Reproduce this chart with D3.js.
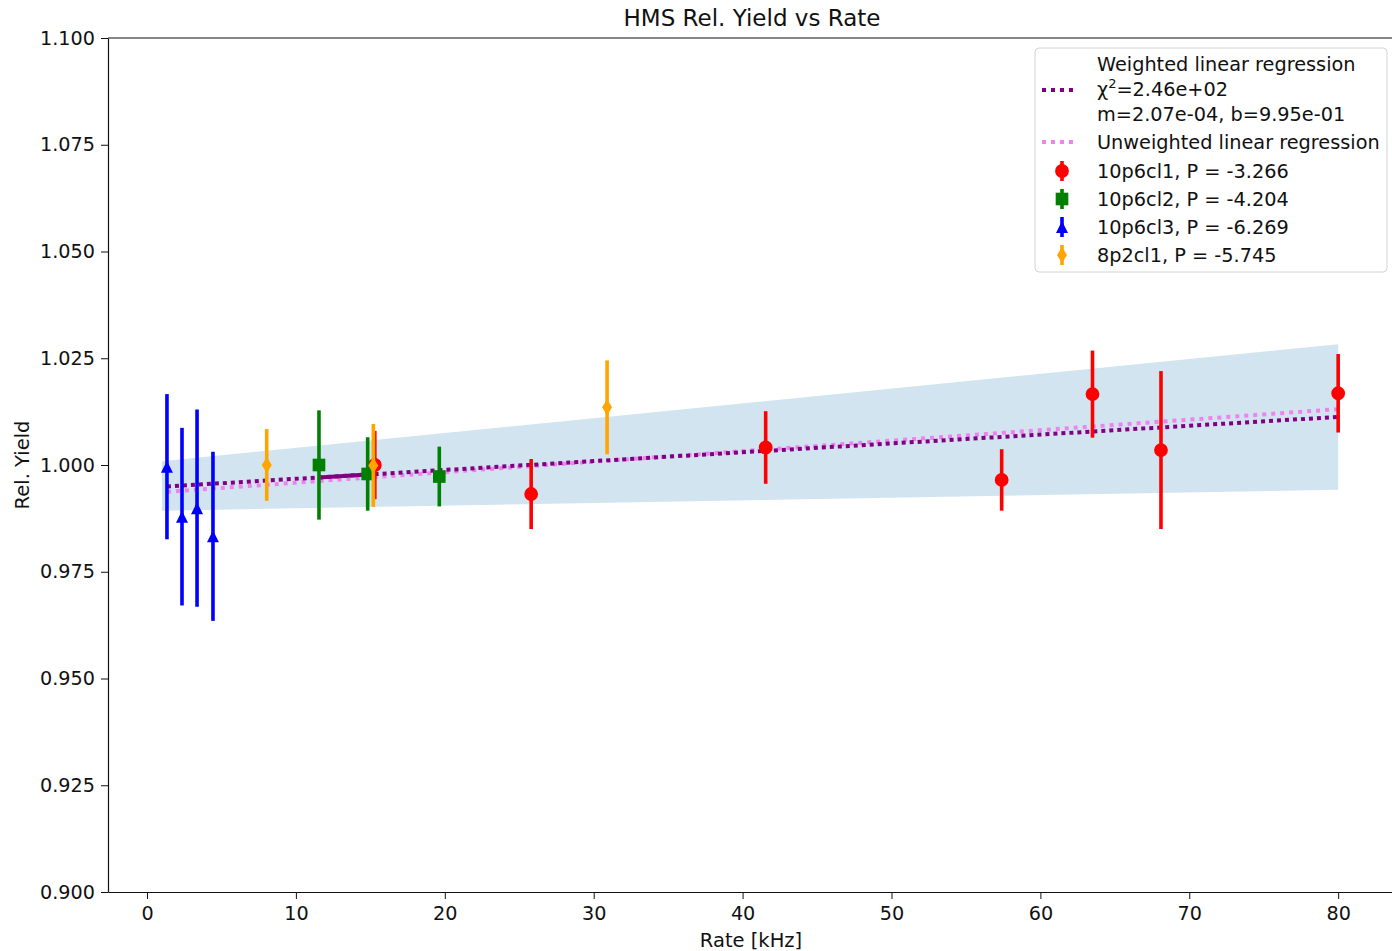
<!DOCTYPE html>
<html>
<head>
<meta charset="utf-8">
<script src="https://cdnjs.cloudflare.com/ajax/libs/d3/7.9.0/d3.min.js"></script>
<style>
  body { margin: 0; background: #fff; }
  svg { display: block; font-family: 'DejaVu Sans', sans-serif; }
</style>
</head>
<body>
<svg id="chart" width="1392" height="951"></svg>
<script>
const TITLE = 'HMS Rel. Yield vs Rate';
const X_TICKS = [0, 10, 20, 30, 40, 50, 60, 70, 80];
const Y_TICKS = [0.900, 0.925, 0.950, 0.975, 1.000, 1.025, 1.050, 1.075, 1.100];

// series
const redX = [15.3, 25.8, 41.55, 57.4, 63.5, 68.1, 80.0];
const redY = [1.000, 0.9932, 1.0041, 0.9965, 1.0166, 1.0035, 1.0168];
const redErr = [0.008, 0.0082, 0.0085, 0.0072, 0.0102, 0.0185, 0.0092];

const greenX = [11.55, 14.82, 19.63];
const greenY = [1.000, 0.9979, 0.9973];
const greenErr = [0.0128, 0.0086, 0.007];

const blueX = [1.34, 2.35, 3.36, 4.43];
const blueY = [0.9996, 0.9879, 0.9899, 0.9833];
const blueErr = [0.017, 0.0208, 0.0231, 0.0198];

const orangeX = [8.04, 15.2, 30.9];
const orangeY = [1.000, 0.9999, 1.0135];
const orangeErr = [0.0084, 0.0097, 0.011];

// fits + confidence band
const weightedFit = [2.07e-4, 0.9947];   // m, b
const unweightedFit = [2.46e-4, 0.9934];
const bandX = [1.0, 80.0];
const bandLow = [0.9893, 0.9942];
const bandHigh = [1.0009, 1.0283];

const SERIES = [
  { name: '10p6cl1, P = -3.266', color: 'red', shape: 'circle', x: redX, y: redY, e: redErr },
  { name: '10p6cl2, P = -4.204', color: 'green', shape: 'square', x: greenX, y: greenY, e: greenErr },
  { name: '10p6cl3, P = -6.269', color: 'blue', shape: 'triangle', x: blueX, y: blueY, e: blueErr },
  { name: '8p2cl1, P = -5.745', color: 'orange', shape: 'diamond', x: orangeX, y: orangeY, e: orangeErr },
];

const L = 108, T = 38, R = 1394, B = 892;
const INK = '#111';
const x = d3.scaleLinear().domain([-2.62, 83.75]).range([L, R]);
const y = d3.scaleLinear().domain([0.9, 1.1]).range([B, T]);

const svg = d3.select('#chart');

function markerPath(shape) {
  if (shape === 'circle') return d3.symbol(d3.symbolCircle, 150)();
  if (shape === 'square') return d3.symbol(d3.symbolSquare, 160)();
  if (shape === 'triangle') return 'M0,-6L6,6L-6,6Z';
  return 'M0,-8L5,0L0,8L-5,0Z';
}

// band
const band = bandX.map((v, i) => ({ x: v, lo: bandLow[i], hi: bandHigh[i] }));
svg.append('path').datum(band)
  .attr('d', d3.area().x(d => x(d.x)).y0(d => y(d.lo)).y1(d => y(d.hi)))
  .attr('fill', '#1f77b4').attr('opacity', 0.2);

// fit lines
const allX = SERIES.flatMap(s => s.x);
const fitRange = d3.extent(allX);
function fitLine(fit, color, dash) {
  svg.append('path').datum(fitRange)
    .attr('d', d3.line().x(d => x(d)).y(d => y(fit[0] * d + fit[1])))
    .attr('stroke', color).attr('stroke-width', 4).attr('fill', 'none')
    .attr('stroke-dasharray', dash);
}
fitLine(unweightedFit, 'violet', '4 5');
fitLine(weightedFit, 'purple', '4 4');
// overlapping dashes look solid here in the original
svg.append('path').datum([greenX[0], greenX[1]])
  .attr('d', d3.line().x(d => x(d)).y(d => y(weightedFit[0] * d + weightedFit[1])))
  .attr('stroke', 'purple').attr('stroke-width', 4).attr('fill', 'none');

// error bars + markers
SERIES.forEach(s => {
  const g = svg.append('g');
  const pts = s.x.map((v, i) => ({ x: v, y: s.y[i], e: s.e[i] }));
  g.selectAll('line').data(pts).join('line')
    .attr('x1', d => x(d.x)).attr('x2', d => x(d.x))
    .attr('y1', d => y(d.y - d.e)).attr('y2', d => y(d.y + d.e))
    .attr('stroke', s.color).attr('stroke-width', 3.6);
  g.selectAll('path').data(pts).join('path')
    .attr('d', markerPath(s.shape))
    .attr('transform', d => `translate(${x(d.x)},${y(d.y)})`)
    .attr('fill', s.color);
});

// axes
const xAxis = svg.append('g').attr('transform', `translate(0,${B})`)
  .call(d3.axisBottom(x).tickValues(X_TICKS).tickSize(7).tickPadding(7).tickSizeOuter(0));
const yAxis = svg.append('g').attr('transform', `translate(${L},0)`)
  .call(d3.axisLeft(y).tickValues(Y_TICKS).tickFormat(d3.format('.3f')).tickSize(7).tickPadding(6).tickSizeOuter(0));
[xAxis, yAxis].forEach(a => {
  a.selectAll('text').attr('font-size', 19.2).attr('fill', INK).style('font-family', 'DejaVu Sans');
  a.selectAll('line').attr('stroke', INK);
  a.select('.domain').attr('stroke', INK).attr('stroke-width', 1.2);
});
svg.append('line').attr('x1', L).attr('x2', R).attr('y1', T).attr('y2', T)
  .attr('stroke', INK).attr('stroke-width', 1.2);

svg.append('text').text(TITLE).attr('x', 752).attr('y', 26)
  .attr('text-anchor', 'middle').attr('font-size', 23).attr('fill', INK);
svg.append('text').text('Rate [kHz]').attr('x', 751).attr('y', 947)
  .attr('text-anchor', 'middle').attr('font-size', 19.5).attr('fill', INK);
svg.append('text').text('Rel. Yield')
  .attr('transform', `translate(29,${(T + B) / 2}) rotate(-90)`)
  .attr('text-anchor', 'middle').attr('font-size', 19.5).attr('fill', INK);

// legend
const lg = svg.append('g');
lg.append('rect').attr('x', 1035).attr('y', 48).attr('width', 352).attr('height', 224).attr('rx', 4)
  .attr('fill', '#fff').attr('fill-opacity', 0.8).attr('stroke', '#d4d4d4');
const tx = 1097, fs = 19.3;
lg.append('line').attr('x1', 1042).attr('x2', 1078).attr('y1', 90).attr('y2', 90)
  .attr('stroke', 'purple').attr('stroke-width', 4).attr('stroke-dasharray', '4 5');
lg.append('text').text('Weighted linear regression').attr('x', tx).attr('y', 71).attr('font-size', fs);
const chi = lg.append('text').attr('x', tx).attr('y', 96).attr('font-size', fs);
chi.append('tspan').text('χ');
chi.append('tspan').text('2').attr('font-size', 13).attr('dy', -8);
chi.append('tspan').text('=2.46e+02').attr('dy', 8);
lg.append('text').text('m=2.07e-04, b=9.95e-01').attr('x', tx).attr('y', 121).attr('font-size', fs);
lg.append('line').attr('x1', 1042).attr('x2', 1078).attr('y1', 142).attr('y2', 142)
  .attr('stroke', 'violet').attr('stroke-width', 4).attr('stroke-dasharray', '4 5');
lg.append('text').text('Unweighted linear regression').attr('x', tx).attr('y', 149).attr('font-size', fs);
SERIES.forEach((s, i) => {
  const cy = 171 + i * 28;
  lg.append('line').attr('x1', 1062).attr('x2', 1062).attr('y1', cy - 10).attr('y2', cy + 10)
    .attr('stroke', s.color).attr('stroke-width', 3.6);
  lg.append('path').attr('d', markerPath(s.shape)).attr('transform', `translate(1062,${cy})`).attr('fill', s.color);
  lg.append('text').text(s.name).attr('x', tx).attr('y', cy + 7).attr('font-size', fs);
});
lg.selectAll('text').attr('fill', INK);
</script>
</body>
</html>
